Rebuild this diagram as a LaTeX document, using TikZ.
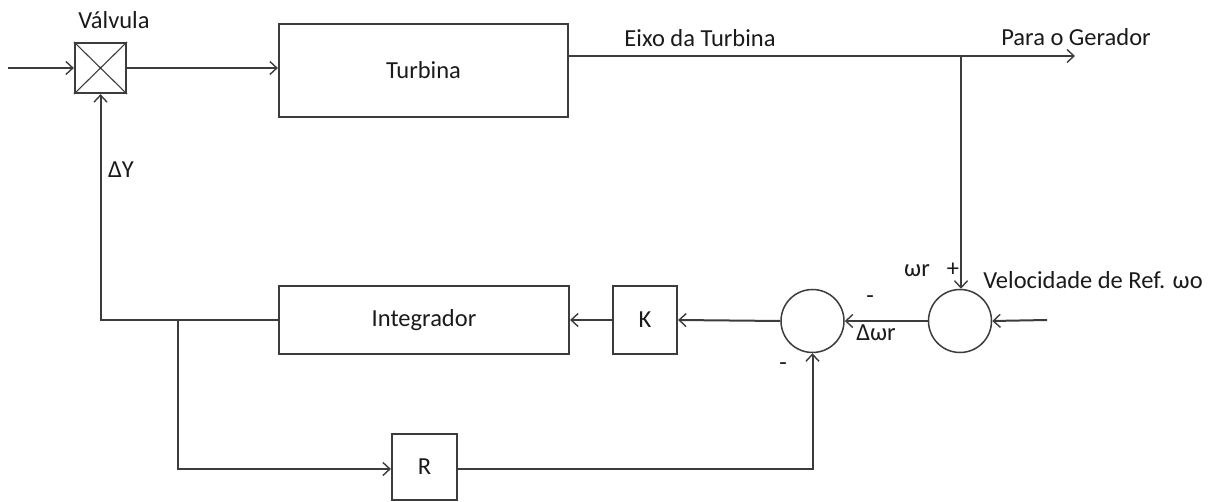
\documentclass[tikz,border=0pt]{standalone}
\usepackage{fontspec}
\setmainfont{Carlito}
\usetikzlibrary{arrows.meta}
\definecolor{ln}{HTML}{3C3C3C}
\definecolor{tx}{HTML}{1A1A1A}
\begin{document}
\begin{tikzpicture}[x=1pt,y=-1pt,
  every node/.style={text=tx,font=\fontsize{24.5}{28}\selectfont},
  blk/.style={draw=ln,line width=2.2pt,rectangle,inner sep=0pt},
  sumc/.style={draw=ln,line width=1.5pt,circle,inner sep=0pt,minimum size=63pt},
  wire/.style={draw=ln,line width=2pt},
  arr/.style={wire,-{Straight Barb[length=7pt,width=13pt,line width=1.4pt]}},
  lbl/.style={inner sep=0pt,anchor=center}]
\useasboundingbox (0,0) rectangle (1215,502);
% blocks
\node[blk,minimum width=51pt,minimum height=50pt] (valve) at (100.5,68) {};
\draw[ln,line width=1.1pt] (valve.north west) -- (valve.south east) (valve.north east) -- (valve.south west);
\node[blk,minimum width=289pt,minimum height=93pt] (turb) at (423.5,70.5) {Turbina};
\node[blk,minimum width=290pt,minimum height=68pt] (integ) at (424,320) {Integrador};
\node[blk,minimum width=64pt,minimum height=68pt] (K) at (645,320) {K};
\node[blk,minimum width=65pt,minimum height=66pt] (R) at (424.5,467) {R};
\node[sumc] (s1) at (812.5,321) {};
\node[sumc] (s2) at (960,321) {};
% coordinates
\coordinate (in) at (8,68);
\coordinate (sh) at (568,56);
\coordinate (br) at (961,56);
\coordinate (out) at (1075,56);
\coordinate (ref) at (1047,320);
\coordinate (dy) at (100.5,320);
\coordinate (jn) at (178,320);
\coordinate (rb) at (178,469);
\coordinate (rc) at (812.5,469);
% connectors
\draw[arr] (in) -- (valve.west);
\draw[arr] (valve.east) -- (valve.east -| turb.west);
\draw[arr] (sh) -- (out);
\draw[arr] (br) -- (br |- s2.north);
\draw[arr] (ref) -- (s2.east);
\draw[arr] (s2.west) -- (s1.east);
\draw[arr] (s1.west) -- (K.east);
\draw[arr] (K.west) -- (integ.east);
\draw[arr] (integ.west) -- (dy) -- (valve.south);
\draw[arr] (jn) -- (rb) -- (R.west |- rb);
\draw[arr] (R.east |- rb) -- (rc) -- (s1.south);
% labels
\node[lbl] (lv) at (114,20) {Válvula};
\node[lbl] (ldy) at (121,170) {ΔY};
\node[lbl] (lei) at (700,38) {Eixo da Turbina};
\node[lbl] (lpg) at (1076,37) {Para o Gerador};
\node[lbl] (lwr) at (917,271) {ωr};
\node[lbl] (lp) at (953,270) {+};
\node[lbl] (lvr) at (1093,280) {Velocidade de Ref. ωo};
\node[lbl] (lm1) at (870,300) {-};
\node[lbl] (ldw) at (876,333) {Δωr};
\node[lbl] (lm2) at (783,367) {-};
\end{tikzpicture}
\end{document}
